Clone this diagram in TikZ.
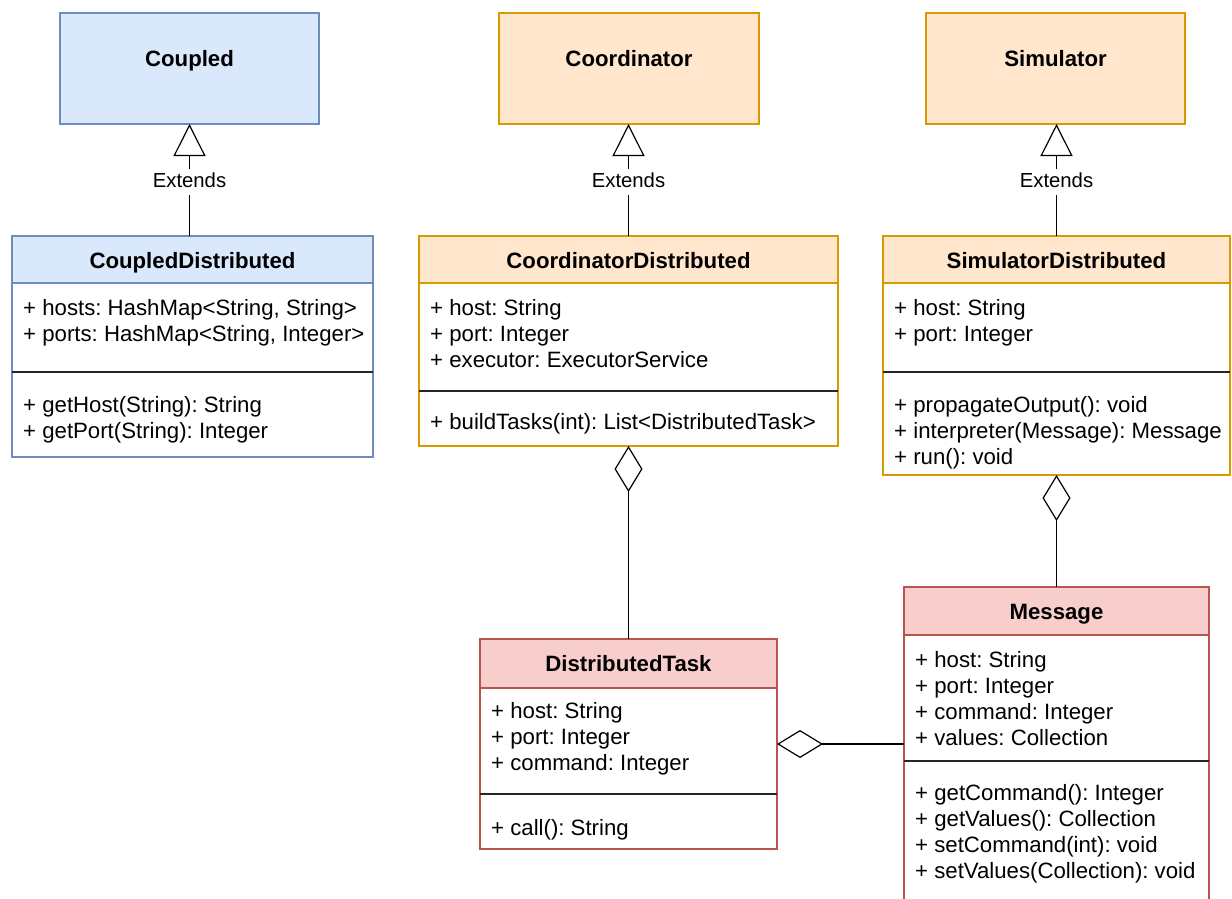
\documentclass[tikz,border=0pt]{standalone}
\usepackage{fontspec}
\setmainfont{Liberation Sans}
\usetikzlibrary{arrows.meta}
\definecolor{blueFill}{HTML}{DAE8FC}
\definecolor{blueLine}{HTML}{6C8EBF}
\definecolor{orangeFill}{HTML}{FFE6CC}
\definecolor{orangeLine}{HTML}{D79B00}
\definecolor{redFill}{HTML}{F8CECC}
\definecolor{redLine}{HTML}{B85450}
\frenchspacing

\tikzset{
  box/.style={rectangle, line width=1.3pt, anchor=north west, inner sep=0pt, outer sep=0pt},
  title/.style={font=\fontsize{22.2}{26}\selectfont\bfseries, anchor=base, inner sep=0pt},
  member/.style={font=\fontsize{22.2}{26}\selectfont, anchor=base west, inner sep=0pt},
  divider/.style={line width=1.3pt, draw=black!85},
  extends/.style={line width=1.2pt, -{Triangle[length=32pt, width=32pt, fill=white]}},
  aggregate/.style={line width=1.2pt, {Diamond[length=46pt, width=28pt, fill=white]}-},
  lbl/.style={font=\fontsize{20.3}{24}\selectfont, fill=white, inner xsep=2pt, inner ysep=3pt,
              text height=15pt, text depth=5pt, yshift=-2pt}
}

\begin{document}
\begin{tikzpicture}[x=1pt, y=-1pt]
\useasboundingbox (0,0) rectangle (1232,898);
\clip (0,0) rectangle (1232,898);
\fill[white] (0,0) rectangle (1232,898);

% ---------- Coupled ----------
\node[box, draw=blueLine, fill=blueFill, minimum width=259pt, minimum height=111pt] (cpl) at (60,13) {};
\node[title] (cplT) at (189.5,66) {Coupled};

% ---------- CoupledDistributed ----------
\node[box, draw=blueLine, fill=white, minimum width=361pt, minimum height=221pt] (cpd) at (12,236) {};
\node[box, draw=blueLine, fill=blueFill, minimum width=361pt, minimum height=47pt] (cpdH) at (12,236) {};
\node[title] (cpdT) at (192.5,268) {CoupledDistributed};
\node[member] (cpd1) at (23,315) {+ hosts: HashMap<String, String>};
\node[member] (cpd2) at (23,341) {+ ports: HashMap<String, Integer>};
\draw[divider] (cpd.west |- 0,372) -- (cpd.east |- 0,372);
\node[member] (cpd3) at (23,412) {+ getHost(String): String};
\node[member] (cpd4) at (23,438) {+ getPort(String): Integer};

% ---------- Coordinator ----------
\node[box, draw=orangeLine, fill=orangeFill, minimum width=260pt, minimum height=111pt] (cor) at (499,13) {};
\node[title] (corT) at (629,66) {Coordinator};

% ---------- CoordinatorDistributed ----------
\node[box, draw=orangeLine, fill=white, minimum width=419pt, minimum height=210pt] (cod) at (419,236) {};
\node[box, draw=orangeLine, fill=orangeFill, minimum width=419pt, minimum height=47pt] (codH) at (419,236) {};
\node[title] (codT) at (628.5,268) {CoordinatorDistributed};
\node[member] (cod1) at (430,315) {+ host: String};
\node[member] (cod2) at (430,341) {+ port: Integer};
\node[member] (cod3) at (430,367) {+ executor: ExecutorService};
\draw[divider] (cod.west |- 0,391) -- (cod.east |- 0,391);
\node[member] (cod4) at (430,429) {+ buildTasks(int): List<DistributedTask>};

% ---------- Simulator ----------
\node[box, draw=orangeLine, fill=orangeFill, minimum width=259pt, minimum height=111pt] (sim) at (926,13) {};
\node[title] (simT) at (1055.5,66) {Simulator};

% ---------- SimulatorDistributed ----------
\node[box, draw=orangeLine, fill=white, minimum width=347pt, minimum height=239pt] (sd) at (883,236) {};
\node[box, draw=orangeLine, fill=orangeFill, minimum width=347pt, minimum height=47pt] (sdH) at (883,236) {};
\node[title] (sdT) at (1056.5,268) {SimulatorDistributed};
\node[member] (sd1) at (894,315) {+ host: String};
\node[member] (sd2) at (894,341) {+ port: Integer};
\draw[divider] (sd.west |- 0,372) -- (sd.east |- 0,372);
\node[member] (sd3) at (894,412) {+ propagateOutput(): void};
\node[member] (sd4) at (894,438) {+ interpreter(Message): Message};
\node[member] (sd5) at (894,464) {+ run(): void};

% ---------- DistributedTask ----------
\node[box, draw=redLine, fill=white, minimum width=297pt, minimum height=210pt] (dt) at (480,639) {};
\node[box, draw=redLine, fill=redFill, minimum width=297pt, minimum height=49pt] (dtH) at (480,639) {};
\node[title] (dtT) at (628.5,671) {DistributedTask};
\node[member] (dt1) at (491,718) {+ host: String};
\node[member] (dt2) at (491,744) {+ port: Integer};
\node[member] (dt3) at (491,770) {+ command: Integer};
\draw[divider] (dt.west |- 0,794) -- (dt.east |- 0,794);
\node[member] (dt4) at (491,835) {+ call(): String};

% ---------- Message ----------
\node[box, draw=redLine, fill=white, minimum width=305pt, minimum height=340pt] (msg) at (904,587) {};
\node[box, draw=redLine, fill=redFill, minimum width=305pt, minimum height=48pt] (msgH) at (904,587) {};
\node[title] (msgT) at (1056.5,619) {Message};
\node[member] (msg1) at (915,667) {+ host: String};
\node[member] (msg2) at (915,693) {+ port: Integer};
\node[member] (msg3) at (915,719) {+ command: Integer};
\node[member] (msg4) at (915,745) {+ values: Collection};
\draw[divider] (msg.west |- 0,761) -- (msg.east |- 0,761);
\node[member] (msg5) at (915,800) {+ getCommand(): Integer};
\node[member] (msg6) at (915,826) {+ getValues(): Collection};
\node[member] (msg7) at (915,852) {+ setCommand(int): void};
\node[member] (msg8) at (915,878) {+ setValues(Collection): void};

% ---------- Inheritance ----------
\draw[extends] (cpd.north -| cpl.south) -- node[lbl] (ext1) {Extends} (cpl.south);
\draw[extends] (cod.north) -- node[lbl] (ext2) {Extends} (cod.north |- cor.south);
\draw[extends] (sd.north) -- node[lbl] (ext3) {Extends} (sd.north |- sim.south);

% ---------- Aggregation ----------
\draw[aggregate] (cod.south) -- (cod.south |- dt.north);
\draw[aggregate] (sd.south) -- (sd.south |- msg.north);
\draw[aggregate] (dt.east) -- (dt.east -| msg.west);
\end{tikzpicture}
\end{document}
